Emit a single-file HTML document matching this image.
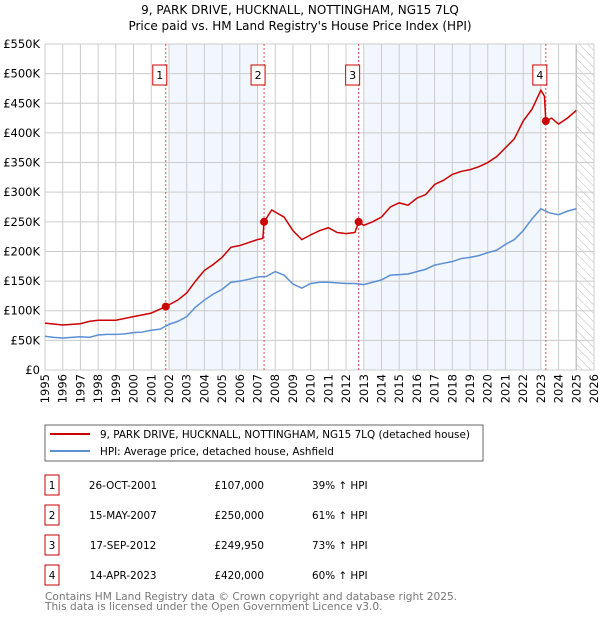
<!DOCTYPE html>
<html><head><meta charset="utf-8"><style>
body{margin:0;background:#fff;font-family:"DejaVu Sans","Liberation Sans",sans-serif;}
svg text{font-family:"DejaVu Sans","Liberation Sans",sans-serif;}
</style></head><body>
<svg id="c" width="600" height="620" viewBox="0 0 600 620" xmlns="http://www.w3.org/2000/svg">
<defs><pattern id="hatch" width="6" height="6" patternUnits="userSpaceOnUse" patternTransform="rotate(-45)"><line x1="0" y1="0" x2="0" y2="6" stroke="#bbb" stroke-width="1"/></pattern></defs>
<text x="300" y="14" text-anchor="middle" font-size="12">9, PARK DRIVE, HUCKNALL, NOTTINGHAM, NG15 7LQ</text>
<text x="300" y="30" text-anchor="middle" font-size="12">Price paid vs. HM Land Registry's House Price Index (HPI)</text>
<g id="plot"></g>
<rect x="45" y="425" width="438" height="36" fill="#fff" stroke="#666"/>
<line x1="50" y1="434" x2="90" y2="434" stroke="#cc0000" stroke-width="2"/>
<text x="100" y="438" font-size="10.4">9, PARK DRIVE, HUCKNALL, NOTTINGHAM, NG15 7LQ (detached house)</text>
<line x1="50" y1="451" x2="90" y2="451" stroke="#5b8fd4" stroke-width="2"/>
<text x="100" y="455" font-size="10.4">HPI: Average price, detached house, Ashfield</text>
<g id="table" font-size="10.4"></g>
<text x="45" y="600" font-size="10.6" fill="#777">Contains HM Land Registry data © Crown copyright and database right 2025.</text>
<text x="45" y="610" font-size="10.6" fill="#777">This data is licensed under the Open Government Licence v3.0.</text>
</svg>
<script>
const hpiYears=[1995,1995.5,1996,1996.5,1997,1997.5,1998,1998.5,1999,1999.5,2000,2000.5,2001,2001.5,2002,2002.5,2003,2003.5,2004,2004.5,2005,2005.5,2006,2006.5,2007,2007.5,2008,2008.5,2009,2009.5,2010,2010.5,2011,2011.5,2012,2012.5,2013,2013.5,2014,2014.5,2015,2015.5,2016,2016.5,2017,2017.5,2018,2018.5,2019,2019.5,2020,2020.5,2021,2021.5,2022,2022.5,2023,2023.5,2024,2024.5,2025];
const hpiValues=[57,55,54,55,56,55,59,60,60,61,63,64,67,69,77,82,90,106,118,128,136,148,150,153,157,158,166,160,145,138,146,148,148,147,146,146,144,148,152,160,161,162,166,170,177,180,183,188,190,193,198,202,212,220,235,255,272,265,262,268,272];
const priceYears=[1995,1996,1997,1997.5,1998,1999,2000,2001,2001.82,2002.5,2003,2003.5,2004,2004.5,2005,2005.5,2006,2006.5,2007,2007.3,2007.37,2007.8,2008.5,2009,2009.5,2010,2010.5,2011,2011.5,2012,2012.5,2012.71,2013,2013.5,2014,2014.5,2015,2015.5,2016,2016.5,2017,2017.5,2018,2018.5,2019,2019.5,2020,2020.5,2021,2021.5,2022,2022.5,2023,2023.2,2023.28,2023.6,2024,2024.5,2025];
const priceValues=[79,76,78,82,84,84,90,96,107,118,130,150,168,178,190,207,210,215,220,222,250,270,258,235,220,228,235,240,232,230,232,250,244,250,258,275,282,278,290,296,313,320,330,335,338,343,350,360,375,390,420,440,472,462,420,425,415,425,438];
const saleYears=[2001.82,2007.37,2012.71,2023.28];
const saleValues=[107,250,249.95,420];
const saleLabels=["1","2","3","4"];
const saleDates=["26-OCT-2001","15-MAY-2007","17-SEP-2012","14-APR-2023"];
const salePrices=["£107,000","£250,000","£249,950","£420,000"];
const saleHpi=["39% ↑ HPI","61% ↑ HPI","73% ↑ HPI","60% ↑ HPI"];
const yTicks=[0,50,100,150,200,250,300,350,400,450,500,550];
const yTickLabels=["£0","£50K","£100K","£150K","£200K","£250K","£300K","£350K","£400K","£450K","£500K","£550K"];
const xTicks=[1995,1996,1997,1998,1999,2000,2001,2002,2003,2004,2005,2006,2007,2008,2009,2010,2011,2012,2013,2014,2015,2016,2017,2018,2019,2020,2021,2022,2023,2024,2025,2026];
const shadeBands=[[2002,2007],[2013,2023]];
const NS="http://www.w3.org/2000/svg";
const L=45,R=594,T=44,B=370;
const x=v=>L+(v-1995)/(2026-1995)*(R-L);
const y=v=>B-v/550*(B-T);
const plot=document.getElementById('plot');
function mk(tag,attrs,parent){const e=document.createElementNS(NS,tag);for(const k in attrs)e.setAttribute(k,attrs[k]);(parent||plot).appendChild(e);return e;}
mk('rect',{x:L,y:T,width:R-L,height:B-T,fill:'#fff'});
shadeBands.forEach(b=>{const r=mk('rect',{x:x(b[0]),y:T,width:x(b[1])-x(b[0]),height:B-T,fill:'#eef3fc',opacity:0.75});

});
const h=mk('rect',{x:x(2025),y:T,width:R-x(2025),height:B-T,fill:'url(#hatch)'});


mk('line',{x1:x(2025),y1:T,x2:x(2025),y2:B,stroke:'#999','stroke-width':1.2});
xTicks.forEach(t=>{const l=mk('line',{x1:x(t),y1:T,x2:x(t),y2:B,stroke:'#ccc','stroke-width':1});


const tx=mk('text',{x:0,y:0,'font-size':11.5,'text-anchor':'end',transform:`translate(${x(t)+4},${B+4}) rotate(-90)`});tx.textContent=t;

});
yTicks.forEach((t,i)=>{const l=mk('line',{x1:L,y1:y(t),x2:R,y2:y(t),stroke:'#ccc','stroke-width':1});


const tx=mk('text',{x:L-5,y:y(t)+4,'font-size':11.5,'text-anchor':'end'});tx.textContent=yTickLabels[i];

});
saleYears.forEach((s,i)=>{const l=mk('line',{x1:x(s),y1:T,x2:x(s),y2:B,stroke:'#e05050','stroke-width':1,'stroke-dasharray':'2,2'});


const g=mk('g',{});


mk('rect',{x:x(s)-13,y:65,width:14,height:20,fill:'#fff',stroke:'#cc0000'},g);
const tx=mk('text',{x:x(s)-6,y:79,'font-size':11,'text-anchor':'middle'},g);tx.textContent=saleLabels[i];});
const hp=mk('polyline',{points:hpiYears.map((v,i)=>x(v)+','+y(hpiValues[i])).join(' '),fill:'none',stroke:'#5b8fd4','stroke-width':1.5});


const pp=mk('polyline',{points:priceYears.map((v,i)=>x(v)+','+y(priceValues[i])).join(' '),fill:'none',stroke:'#cc0000','stroke-width':1.5});


saleYears.forEach((s,i)=>{const c=mk('circle',{cx:x(s),cy:y(saleValues[i]),r:4,fill:'#cc0000'});

});
const tb=document.getElementById('table');
saleLabels.forEach((lab,i)=>{const yy=475+i*30;
const g=mk('g',{},tb);


mk('rect',{x:45,y:yy,width:14,height:20,fill:'#fff',stroke:'#cc0000'},g);
let t=mk('text',{x:52,y:yy+14,'text-anchor':'middle'},g);t.textContent=lab;
t=mk('text',{x:123,y:yy+14,'text-anchor':'middle'},g);t.textContent=saleDates[i];
t=mk('text',{x:264,y:yy+14,'text-anchor':'end'},g);t.textContent=salePrices[i];
t=mk('text',{x:312,y:yy+14},g);t.textContent=saleHpi[i];});
</script>
</body></html>
